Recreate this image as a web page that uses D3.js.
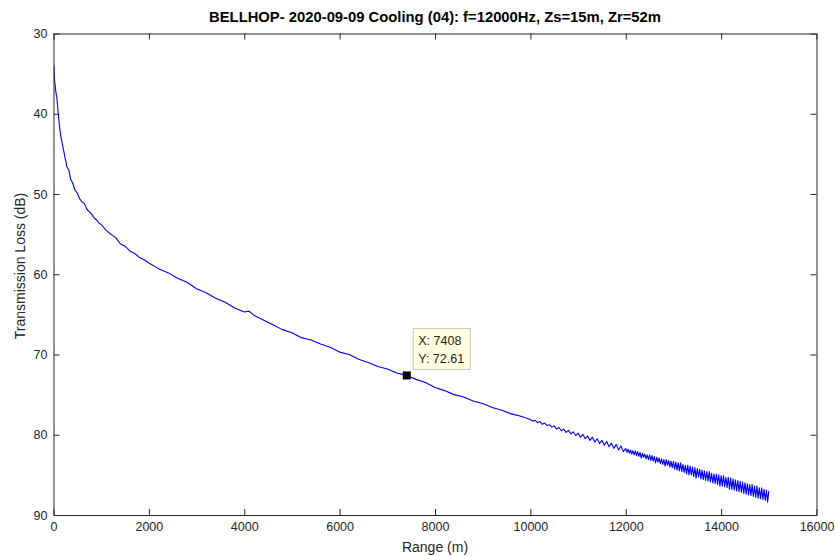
<!DOCTYPE html>
<html>
<head>
<meta charset="utf-8">
<script src="https://cdn.jsdelivr.net/npm/d3@7"></script>
<style>
  html, body { margin: 0; padding: 0; background: #fff; }
  svg { display: block; font-family: "Liberation Sans", Arial, Helvetica, sans-serif; }
</style>
</head>
<body>
<svg id="chart" width="835" height="556"></svg>
<script>
// ---------- data ----------
const titleText = "BELLHOP- 2020-09-09 Cooling (04): f=12000Hz, Zs=15m, Zr=52m";
const xLabel = "Range (m)";
const yLabel = "Transmission Loss (dB)";
const xTicks = [0, 2000, 4000, 6000, 8000, 10000, 12000, 14000, 16000];
const yTicks = [30, 40, 50, 60, 70, 80, 90];

const rangeNear = [0, 10, 20, 30, 50, 70, 100, 130, 160, 200, 240, 280, 320, 360, 400, 450, 500, 550, 600, 650, 700, 750, 800, 850, 900, 950, 1000, 1100, 1200, 1300, 1400, 1500, 1600, 1700, 1800, 1900, 2000];
const lossNear  = [34.0, 34.3, 35.8, 36.2, 37.3, 38.0, 40.0, 41.8, 43.0, 44.2, 45.4, 46.6, 47.0, 48.2, 48.6, 49.5, 49.9, 50.6, 51.0, 51.2, 51.9, 52.2, 52.5, 53.0, 53.2, 53.6, 53.8, 54.5, 55.0, 55.4, 56.2, 56.5, 57.1, 57.4, 57.9, 58.2, 58.6];

const rangeMid = [2200, 2400, 2600, 2800, 3000, 3200, 3400, 3600, 3800, 4000, 4100, 4200, 4400, 4600, 4800, 5000, 5200, 5400, 5600, 5800, 6000, 6200, 6400, 6600, 6800, 7000, 7200, 7400, 7600, 7800, 8000, 8200, 8400, 8600, 8800, 9000, 9200, 9400, 9600, 9800, 10000];
const lossMid  = [59.3, 59.8, 60.5, 61.0, 61.8, 62.3, 63.0, 63.5, 64.2, 64.7, 64.6, 65.1, 65.7, 66.3, 66.9, 67.3, 67.9, 68.2, 68.7, 69.1, 69.7, 70.0, 70.6, 71.0, 71.5, 71.8, 72.3, 72.6, 73.1, 73.5, 74.1, 74.5, 75.0, 75.3, 75.8, 76.1, 76.6, 76.95, 77.4, 77.7, 78.1];

const rangeFar = [10050, 10100, 10150, 10200, 10250, 10300, 10350, 10400, 10450, 10500, 10550, 10600, 10650, 10700, 10750, 10800, 10850, 10900, 10950, 11000,
  11050, 11100, 11150, 11200, 11250, 11300, 11350, 11400, 11450, 11500, 11550, 11600, 11650, 11700, 11750, 11800, 11850, 11900, 11950];
const lossFar  = [78.3, 78.2, 78.5, 78.35, 78.7, 78.55, 78.85, 78.75, 79.05, 78.9, 79.3, 79.1, 79.5, 79.3, 79.7, 79.45, 79.9, 79.65, 80.1, 79.8,
  80.3, 79.95, 80.5, 80.15, 80.7, 80.3, 80.9, 80.5, 81.1, 80.7, 81.3, 80.85, 81.5, 81.05, 81.7, 81.2, 81.9, 81.4, 82.1];

const rangeTail = [12000, 12025, 12050, 12075, 12100, 12125, 12150, 12175, 12200, 12225, 12250, 12275, 12300, 12325, 12350, 12375,
  12400, 12425, 12450, 12475, 12500, 12525, 12550, 12575, 12600, 12625, 12650, 12675, 12700, 12725, 12750, 12775,
  12800, 12825, 12850, 12875, 12900, 12925, 12950, 12975, 13000, 13025, 13050, 13075, 13100, 13125, 13150, 13175,
  13200, 13225, 13250, 13275, 13300, 13325, 13350, 13375, 13400, 13425, 13450, 13475, 13500, 13525, 13550, 13575,
  13600, 13625, 13650, 13675, 13700, 13725, 13750, 13775, 13800, 13825, 13850, 13875, 13900, 13925, 13950, 13975,
  14000, 14025, 14050, 14075, 14100, 14125, 14150, 14175, 14200, 14225, 14250, 14275, 14300, 14325, 14350, 14375,
  14400, 14425, 14450, 14475, 14500, 14525, 14550, 14575, 14600, 14625, 14650, 14675, 14700, 14725, 14750, 14775,
  14800, 14825, 14850, 14875, 14900, 14925, 14950, 14975, 15000];
const lossTail = [81.7, 82.2, 81.8, 82.3, 81.9, 82.4, 82.0, 82.5, 82.0, 82.6, 82.1, 82.7, 82.2, 82.9, 82.3, 82.8,
  82.4, 83.0, 82.5, 83.1, 82.5, 83.2, 82.6, 83.3, 82.7, 83.5, 82.8, 83.4, 82.9, 83.6, 83.0, 83.7,
  83.1, 83.9, 83.1, 83.8, 83.2, 84.0, 83.3, 84.1, 83.3, 84.3, 83.4, 84.4, 83.5, 84.5, 83.5, 84.6,
  83.7, 84.7, 83.8, 84.9, 83.8, 85.0, 83.9, 85.0, 84.0, 85.2, 84.1, 85.4, 84.2, 85.3, 84.3, 85.5,
  84.4, 85.6, 84.5, 85.7, 84.6, 85.8, 84.6, 85.9, 84.8, 86.0, 84.9, 86.1, 84.9, 86.2, 85.0, 86.4,
  85.1, 86.4, 85.1, 86.5, 85.3, 86.6, 85.3, 86.8, 85.4, 86.8, 85.5, 86.9, 85.6, 87.0, 85.7, 87.1,
  85.8, 87.2, 85.9, 87.3, 86.0, 87.4, 86.1, 87.5, 86.2, 87.6, 86.2, 87.7, 86.4, 87.8, 86.4, 87.9,
  86.6, 88.0, 86.6, 88.1, 86.8, 88.2, 86.9, 88.4, 87.0];

const tipRange = 7408;
const tipLoss = 72.61;

// ---------- drawing ----------
const svg = d3.select("#chart");
const padL = 53.5, padR = 816.5, padT = 33.5, padB = 515;

const x = d3.scaleLinear().domain([0, 16000]).range([padL, padR]);
const y = d3.scaleLinear().domain([30, 90]).range([padT, padB]);

const axisColor = "#262626";
const tickLen = 6;
const lineGen = d3.line().x(d => x(d[0])).y(d => y(d[1]));

// data series
const rangeAll = rangeNear.concat(rangeMid, rangeFar, rangeTail);
const lossAll = lossNear.concat(lossMid, lossFar, lossTail);
const pts = rangeAll.map((r, i) => [r, lossAll[i]]);

svg.append("clipPath").attr("id", "plotclip")
  .append("rect").attr("x", padL).attr("y", padT).attr("width", padR - padL).attr("height", padB - padT);

svg.append("path")
  .datum(pts)
  .attr("clip-path", "url(#plotclip)")
  .attr("fill", "none")
  .attr("stroke", "#0000e6")
  .attr("stroke-width", 1.1)
  .attr("stroke-linejoin", "round")
  .attr("d", lineGen);

// axes
function styleAxis(g) {
  g.selectAll("path.domain").attr("stroke", axisColor).attr("stroke-width", 1);
  g.selectAll(".tick line").attr("stroke", axisColor).attr("stroke-width", 1);
  g.selectAll(".tick text").attr("fill", axisColor).style("font-size", "12.5px")
    .style("font-family", '"Liberation Sans", Arial, Helvetica, sans-serif');
}

svg.append("g").attr("transform", `translate(0,${padB})`)
  .call(d3.axisBottom(x).tickValues(xTicks).tickFormat(d3.format("d")).tickSizeInner(-tickLen).tickSizeOuter(0).tickPadding(7))
  .call(styleAxis);
svg.append("g").attr("transform", `translate(0,${padT})`)
  .call(d3.axisTop(x).tickValues(xTicks).tickFormat("").tickSizeInner(-tickLen).tickSizeOuter(0))
  .call(styleAxis);
svg.append("g").attr("transform", `translate(${padL},0)`)
  .call(d3.axisLeft(y).tickValues(yTicks).tickFormat(d3.format("d")).tickSizeInner(-tickLen).tickSizeOuter(0).tickPadding(6))
  .call(styleAxis);
svg.append("g").attr("transform", `translate(${padR},0)`)
  .call(d3.axisRight(y).tickValues(yTicks).tickFormat("").tickSizeInner(-tickLen).tickSizeOuter(0))
  .call(styleAxis);

// title & labels
svg.append("text")
  .attr("x", (padL + padR) / 2).attr("y", 22)
  .attr("text-anchor", "middle")
  .style("font-size", "14.8px").style("font-weight", "bold").attr("fill", "#000")
  .text(titleText);

svg.append("text")
  .attr("x", (padL + padR) / 2).attr("y", 552)
  .attr("text-anchor", "middle")
  .style("font-size", "14px").attr("fill", axisColor)
  .text(xLabel);

svg.append("text")
  .attr("transform", `translate(25,266) rotate(-90)`)
  .attr("text-anchor", "middle")
  .style("font-size", "14px").attr("fill", axisColor)
  .text(yLabel);

// data tip
const tx = x(tipRange), ty = y(tipLoss);
svg.append("rect")
  .attr("x", tx - 4).attr("y", ty - 4).attr("width", 8).attr("height", 8)
  .attr("fill", "#000");
const boxX = tx + 6.5, boxY = ty - 47;
svg.append("rect")
  .attr("x", boxX).attr("y", boxY).attr("width", 57).attr("height", 41)
  .attr("fill", "#ffffe1").attr("stroke", "#c8c8b4").attr("stroke-width", 1);
svg.append("text")
  .attr("x", boxX + 5).attr("y", boxY + 17)
  .style("font-size", "12.5px").attr("fill", "#262626")
  .text("X: " + tipRange);
svg.append("text")
  .attr("x", boxX + 5).attr("y", boxY + 35)
  .style("font-size", "12.5px").attr("fill", "#262626")
  .text("Y: " + tipLoss.toFixed(2));
</script>
</body>
</html>
